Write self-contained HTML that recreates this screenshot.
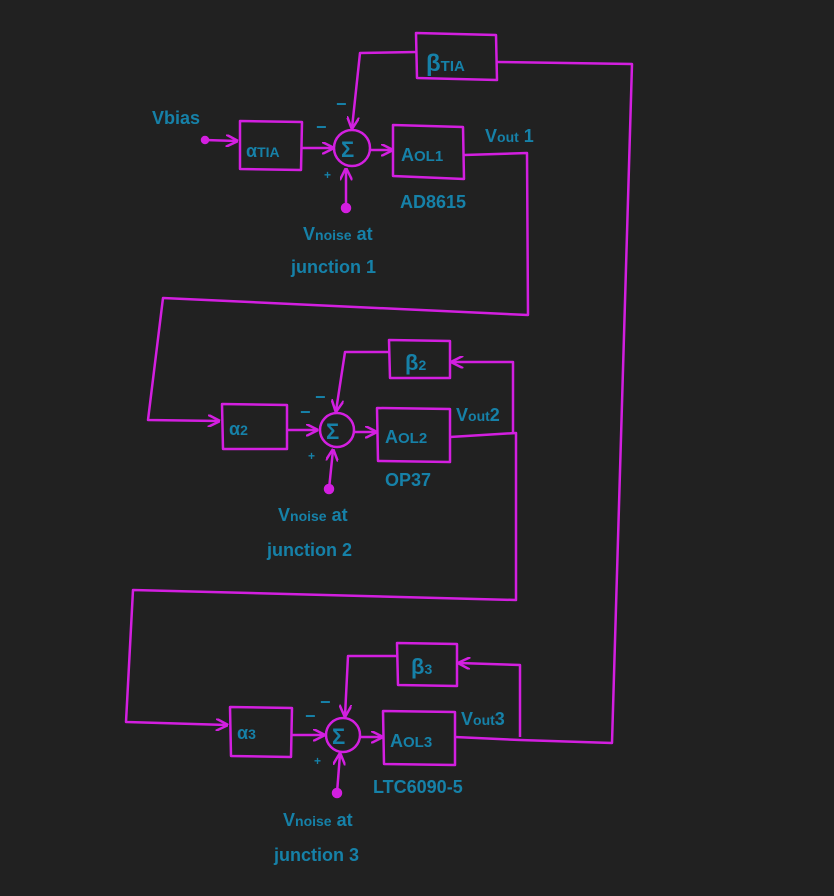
<!DOCTYPE html>
<html><head><meta charset="utf-8"><style>
html,body{margin:0;padding:0;background:#212121;}
svg{display:block}
text{font-family:"Liberation Sans",sans-serif;fill:#1681a8;font-weight:bold;}
</style></head><body>
<svg width="834" height="896" viewBox="0 0 834 896">
<defs>
<marker id="a" viewBox="0 0 10 10" refX="9" refY="5" markerWidth="5" markerHeight="5" orient="auto"><path d="M0,0 L10,5 L0,10" fill="none" stroke="#d31fe0" stroke-width="2"/></marker>
</defs>
<g fill="none" stroke="#d31fe0" stroke-width="2.5" stroke-linejoin="round">
<circle cx="205" cy="140" r="3" fill="#d31fe0"/>
<path d="M205,140 L237,141" marker-end="url(#a)"/>
<path d="M240,121 L302,122 L301,170 L240,169 Z"/>
<path d="M302,148 L333,148" marker-end="url(#a)"/>
<circle cx="352" cy="148" r="18"/>
<path d="M370,150 L392,150" marker-end="url(#a)"/>
<path d="M393,125 L463,127 L464,179 L393,176 Z"/>
<path d="M464,155 L527,153 L528,315 L163,298 L148,420 L219,421" marker-end="url(#a)"/>
<circle cx="346" cy="208" r="4" fill="#d31fe0"/>
<path d="M346,208 L346,169" marker-end="url(#a)"/>
<path d="M416,33 L496,35 L497,80 L417,78 Z"/>
<path d="M416,52 L360,53 L352,128" marker-end="url(#a)"/>
<path d="M497,62 L632,64 L612,743 L520,740 L455,737"/>
<path d="M222,404 L287,405 L287,449 L223,449 Z"/>
<path d="M287,430 L317,430" marker-end="url(#a)"/>
<circle cx="337" cy="430" r="17"/>
<path d="M354,432 L376,432" marker-end="url(#a)"/>
<path d="M377,408 L450,409 L450,462 L378,461 Z"/>
<path d="M450,437 L516,433 L516,600 L133,590 L126,722 L227,725" marker-end="url(#a)"/>
<path d="M389,340 L450,341 L450,378 L390,378 Z"/>
<path d="M513,433 L513,362 L452,362" marker-end="url(#a)"/>
<path d="M389,352 L345,352 L336,411" marker-end="url(#a)"/>
<circle cx="329" cy="489" r="4" fill="#d31fe0"/>
<path d="M329,489 L333,450" marker-end="url(#a)"/>
<path d="M230,707 L292,708 L291,757 L231,756 Z"/>
<path d="M292,735 L324,735" marker-end="url(#a)"/>
<circle cx="343" cy="735" r="17"/>
<path d="M360,737 L382,737" marker-end="url(#a)"/>
<path d="M383,711 L455,712 L455,765 L384,764 Z"/>
<path d="M397,643 L457,644 L457,686 L398,685 Z"/>
<path d="M520,737 L520,665 L459,663" marker-end="url(#a)"/>
<path d="M397,656 L348,656 L345,716" marker-end="url(#a)"/>
<circle cx="337" cy="793" r="4" fill="#d31fe0"/>
<path d="M337,793 L340,754" marker-end="url(#a)"/>
</g>
<g font-size="18">
<text x="152" y="124">Vbias</text>
<text x="246" y="157">α<tspan font-size="14">TIA</tspan></text>
<text x="426" y="71" font-size="24">β<tspan font-size="15">TIA</tspan></text>
<text x="401" y="161">A<tspan font-size="15">OL1</tspan></text>
<text x="485" y="142">V<tspan font-size="14">out</tspan> 1</text>
<text x="341" y="157" font-size="22">Σ</text>
<text x="400" y="208">AD8615</text>
<text x="303" y="240">V<tspan font-size="14">noise</tspan> at</text>
<text x="291" y="273">junction 1</text>
<text x="316" y="133">−</text><text x="336" y="110">−</text><text x="324" y="179" font-size="12">+</text>
<text x="229" y="435">α<tspan font-size="14">2</tspan></text>
<text x="405" y="370" font-size="22">β<tspan font-size="14">2</tspan></text>
<text x="385" y="443">A<tspan font-size="15">OL2</tspan></text>
<text x="456" y="421">V<tspan font-size="14">out</tspan>2</text>
<text x="326" y="439" font-size="22">Σ</text>
<text x="385" y="486">OP37</text>
<text x="278" y="521">V<tspan font-size="14">noise</tspan> at</text>
<text x="267" y="556">junction 2</text>
<text x="315" y="403">−</text><text x="300" y="418">−</text><text x="308" y="460" font-size="12">+</text>
<text x="237" y="739">α<tspan font-size="14">3</tspan></text>
<text x="411" y="674" font-size="22">β<tspan font-size="14">3</tspan></text>
<text x="390" y="747">A<tspan font-size="15">OL3</tspan></text>
<text x="461" y="725">V<tspan font-size="14">out</tspan>3</text>
<text x="332" y="744" font-size="22">Σ</text>
<text x="373" y="793">LTC6090-5</text>
<text x="283" y="826">V<tspan font-size="14">noise</tspan> at</text>
<text x="274" y="861">junction 3</text>
<text x="320" y="708">−</text><text x="305" y="722">−</text><text x="314" y="765" font-size="12">+</text>
</g>
</svg>
</body></html>
